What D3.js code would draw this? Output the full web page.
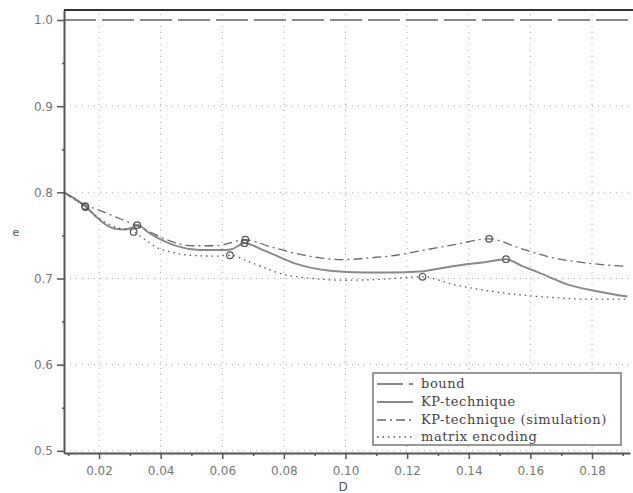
<!DOCTYPE html>
<html>
<head>
<meta charset="utf-8">
<script src="https://cdn.jsdelivr.net/npm/d3@7"></script>
<style>
  body { margin: 0; background: #fff; }
  svg { display: block; }
</style>
</head>
<body>
<div id="chart"></div>
<script>
// values
const kpD = [0.00864, 0.012, 0.0155, 0.019, 0.022, 0.025, 0.028, 0.030, 0.0324, 0.0366, 0.042, 0.046, 0.050, 0.055, 0.060, 0.063, 0.0672,
  0.0733, 0.084, 0.095, 0.1057, 0.115, 0.124, 0.131, 0.138, 0.145, 0.1521, 0.157, 0.162, 0.173, 0.182, 0.1915];
const kpE = [0.800, 0.793, 0.784, 0.772, 0.763, 0.758, 0.757, 0.758, 0.762, 0.752, 0.742, 0.737, 0.734, 0.733, 0.733, 0.734, 0.741,
  0.733, 0.717, 0.709, 0.707, 0.707, 0.708, 0.712, 0.716, 0.719, 0.7224, 0.715, 0.708, 0.692, 0.685, 0.679];

const simD = [0.00864, 0.0155, 0.018, 0.0257, 0.0324, 0.0366, 0.042, 0.0505, 0.058, 0.0675, 0.0755, 0.084, 0.0917, 0.099, 0.108, 0.1166,
  0.124, 0.135, 0.1466, 0.1567, 0.1674, 0.1783, 0.1915];
const simE = [0.800, 0.785, 0.782, 0.771, 0.761, 0.754, 0.745, 0.738, 0.738, 0.745, 0.737, 0.729, 0.724, 0.722, 0.724, 0.727,
  0.732, 0.739, 0.746, 0.735, 0.724, 0.718, 0.714];

const matD = [0.00864, 0.0156, 0.020, 0.025, 0.03125, 0.035, 0.0387, 0.043, 0.0495, 0.058, 0.0625, 0.069, 0.074, 0.0786, 0.0895, 0.1004,
  0.111, 0.125, 0.135, 0.1458, 0.1567, 0.167, 0.178, 0.1915];
const matE = [0.800, 0.783, 0.770, 0.760, 0.754, 0.745, 0.736, 0.731, 0.727, 0.726, 0.727, 0.719, 0.712, 0.706, 0.700, 0.698,
  0.699, 0.702, 0.693, 0.686, 0.681, 0.678, 0.676, 0.676];

const boundE = 1.0;

// circle markers
const kpMarkD = [0.0155, 0.0324, 0.0672, 0.1521];
const kpMarkE = [0.784, 0.762, 0.741, 0.7224];
const simMarkD = [0.0675, 0.1466];
const simMarkE = [0.745, 0.746];
const matMarkD = [0.0156, 0.03125, 0.0625, 0.125];
const matMarkE = [0.783, 0.754, 0.727, 0.702];

const xTicks = [0.02, 0.04, 0.06, 0.08, 0.10, 0.12, 0.14, 0.16, 0.18];
const xMinorTicks = [0.01, 0.03, 0.05, 0.07, 0.09, 0.11, 0.13, 0.15, 0.17, 0.19];
const yTicks = [0.5, 0.6, 0.7, 0.8, 0.9, 1.0];
const yMinorTicks = [0.55, 0.65, 0.75, 0.85, 0.95];

const legendLabels = ['bound', 'KP-technique', 'KP-technique (simulation)', 'matrix encoding'];

const totalWidth = 633;
const totalHeight = 493;
const margin = { top: 10, right: 3, bottom: 40, left: 64 };

const svg = d3.select('#chart')
  .append('svg')
  .attr('width', totalWidth)
  .attr('height', totalHeight);

const x = d3.scaleLinear()
  .domain([0.00864, 0.19233])
  .range([margin.left, totalWidth - margin.right]);

const y = d3.scaleLinear()
  .domain([0.4975, 1.0116])
  .range([totalHeight - margin.bottom, margin.top]);

const tickFont = 'DejaVu Sans, sans-serif';

// grid
const grid = svg.append('g');
grid.selectAll('.vgrid')
  .data(xTicks)
  .enter().append('line')
  .attr('x1', d => x(d)).attr('x2', d => x(d))
  .attr('y1', y.range()[0]).attr('y2', y.range()[1])
  .attr('stroke', '#aaa')
  .attr('stroke-width', 1)
  .attr('stroke-dasharray', '1,5');
grid.selectAll('.hgrid')
  .data(yTicks.slice(0, 5))
  .enter().append('line')
  .attr('x1', x.range()[0]).attr('x2', x.range()[1])
  .attr('y1', d => y(d)).attr('y2', d => y(d))
  .attr('stroke', '#aaa')
  .attr('stroke-width', 1)
  .attr('stroke-dasharray', '1,5');

// lines
const line = d3.line()
  .x(d => x(d[0]))
  .y(d => y(d[1]))
  .curve(d3.curveMonotoneX);

const zip = (a, b) => a.map((v, i) => [v, b[i]]);

const series = [
  { pts: [[x.domain()[0], boundE], [x.domain()[1], boundE]], color: '#8a8a8a', width: 2, dash: '32,6', legendOffset: 6 },
  { pts: zip(kpD, kpE), color: '#8a8a8a', width: 2, dash: null, legendOffset: 0 },
  { pts: zip(simD, simE), color: '#6a6a6a', width: 1.3, dash: '9,4,2,4', legendOffset: 0 },
  { pts: zip(matD, matE), color: '#555', width: 1.3, dash: '1.5,4', legendOffset: 0 },
];

svg.append('g')
  .selectAll('path')
  .data(series)
  .enter().append('path')
  .attr('d', d => line(d.pts))
  .attr('fill', 'none')
  .attr('stroke', d => d.color)
  .attr('stroke-width', d => d.width)
  .attr('stroke-dasharray', d => d.dash);

const markers = [
  ...zip(kpMarkD, kpMarkE),
  ...zip(simMarkD, simMarkE),
  ...zip(matMarkD, matMarkE),
];
svg.append('g')
  .selectAll('circle')
  .data(markers)
  .enter().append('circle')
  .attr('cx', d => x(d[0]))
  .attr('cy', d => y(d[1]))
  .attr('r', 3.3)
  .attr('fill', 'none')
  .attr('stroke', '#555')
  .attr('stroke-width', 1.2);

// axes
const xAxisGroup = svg.append('g')
  .attr('transform', `translate(0, ${y.range()[0]})`);
xAxisGroup.call(d3.axisBottom(x).tickValues(xTicks).tickFormat(d3.format('.2f')).tickSize(6).tickSizeOuter(0));

svg.append('g')
  .attr('transform', `translate(0, ${y.range()[0]})`)
  .call(d3.axisBottom(x).tickValues(xMinorTicks).tickFormat('').tickSize(3).tickSizeOuter(0))
  .select('.domain').remove();

const yAxisGroup = svg.append('g')
  .attr('transform', `translate(${x.range()[0]}, 0)`);
yAxisGroup.call(d3.axisLeft(y).tickValues(yTicks).tickFormat(d3.format('.1f')).tickSize(7).tickSizeOuter(0));

svg.append('g')
  .attr('transform', `translate(${x.range()[0]}, 0)`)
  .call(d3.axisLeft(y).tickValues(yMinorTicks).tickFormat('').tickSize(2).tickSizeOuter(0))
  .select('.domain').remove();

svg.selectAll('.domain')
  .attr('stroke', '#555')
  .attr('stroke-width', 2);
svg.selectAll('.tick line')
  .attr('stroke', '#555')
  .attr('stroke-width', 1.5);
svg.selectAll('.tick text')
  .attr('fill', '#777')
  .style('font-family', tickFont)
  .style('font-size', '12px');
xAxisGroup.selectAll('.tick text').attr('dy', '1.1em');
yAxisGroup.selectAll('.tick text').attr('dx', '-1px');

// top frame line
svg.append('line')
  .attr('x1', x.range()[0]).attr('x2', totalWidth)
  .attr('y1', margin.top).attr('y2', margin.top)
  .attr('stroke', '#333')
  .attr('stroke-width', 2);

// axis titles
svg.append('text')
  .attr('x', 16).attr('y', 236)
  .attr('text-anchor', 'middle')
  .attr('fill', '#555')
  .style('font-family', tickFont)
  .style('font-size', '11px')
  .text('e');
svg.append('text')
  .attr('x', 343).attr('y', 491)
  .attr('text-anchor', 'middle')
  .attr('fill', '#555')
  .style('font-family', tickFont)
  .style('font-size', '12px')
  .text('D');

// legend
const legend = svg.append('g');
legend.append('rect')
  .attr('x', 373).attr('y', 373)
  .attr('width', 248).attr('height', 72)
  .attr('fill', '#fff')
  .attr('stroke', '#777')
  .attr('stroke-width', 1.5);

const legendRows = [384, 402, 420, 437];
legendLabels.forEach((label, i) => {
  const s = series[i];
  legend.append('line')
    .attr('x1', 377).attr('x2', 413)
    .attr('y1', legendRows[i]).attr('y2', legendRows[i])
    .attr('stroke', s.color)
    .attr('stroke-width', s.width)
    .attr('stroke-dasharray', s.dash)
    .attr('stroke-dashoffset', s.legendOffset);
  legend.append('text')
    .attr('x', 421)
    .attr('y', legendRows[i] + 4)
    .attr('fill', '#444')
    .style('font-family', 'DejaVu Serif, serif')
    .style('font-size', '13px')
    .style('letter-spacing', '0.6px')
    .text(label);
});
</script>
</body>
</html>
